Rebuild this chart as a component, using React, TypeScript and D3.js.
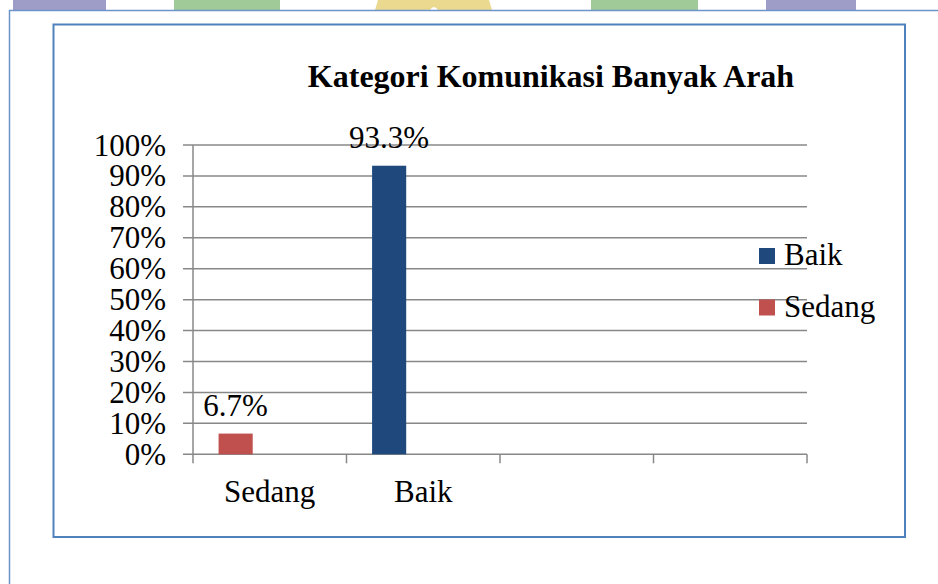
import * as d3 from "d3";
import React, { useEffect, useRef } from "react";

const categories = ["Sedang", "Baik", "", ""];
const values = [0.067, 0.933];
const barColors = ["#C0504D", "#1F497D"];
const legendNames = ["Baik", "Sedang"];
const legendColors = ["#1F497D", "#C0504D"];
const yTicks = [0, 0.1, 0.2, 0.3, 0.4, 0.5, 0.6, 0.7, 0.8, 0.9, 1];
const title = "Kategori Komunikasi Banyak Arah";

const W = 938;
const H = 584;
const FONT = "'Liberation Serif', 'Times New Roman', serif";
const FS = "31px";

const App: React.FC = () => {
  const svgRef = useRef<SVGSVGElement>(null);

  useEffect(() => {
    const svg = d3.select(svgRef.current);
    svg.selectAll("*").remove();

    svg.append("rect").attr("width", W).attr("height", H).attr("fill", "#fff");

    // bits of the page header peeking out above the frame
    const deco = svg.append("g");
    deco.append("rect").attr("x", 13).attr("y", 0).attr("width", 93).attr("height", 10).attr("fill", "#9E9DC8");
    deco.append("rect").attr("x", 174).attr("y", 0).attr("width", 106).attr("height", 10).attr("fill", "#A0CB98");
    deco.append("path").attr("d", "M378,0 L489,0 L492,10 L375,10 Z").attr("fill", "#EAD98F");
    deco.append("path").attr("d", "M430,10 Q434,4 438,10 Z").attr("fill", "#fff");
    deco.append("rect").attr("x", 591).attr("y", 0).attr("width", 107).attr("height", 10).attr("fill", "#A0CB98");
    deco.append("rect").attr("x", 766).attr("y", 0).attr("width", 90).attr("height", 10).attr("fill", "#9E9DC8");

    // outer page frame
    svg.append("rect").attr("x", 9).attr("y", 10).attr("width", W).attr("height", H).attr("fill", "#fff");
    svg
      .append("path")
      .attr("d", `M${W},10.5 L9.5,10.5 L9.5,${H}`)
      .attr("fill", "none")
      .attr("stroke", "#6C94C9")
      .attr("stroke-width", 1.5);

    // chart box
    svg
      .append("rect")
      .attr("x", 53.5)
      .attr("y", 24.5)
      .attr("width", 851.5)
      .attr("height", 512.5)
      .attr("fill", "#fff")
      .attr("stroke", "#4F81BD")
      .attr("stroke-width", 2);

    svg
      .append("text")
      .attr("x", 551)
      .attr("y", 87)
      .attr("text-anchor", "middle")
      .style("font-family", FONT)
      .style("font-size", "32px")
      .style("font-weight", "bold")
      .text(title);

    const x = d3
      .scaleBand<number>()
      .domain(categories.map((_, i) => i))
      .range([193, 807]);
    const slot = d3
      .scaleBand<number>()
      .domain([0, 1, 2])
      .range([0, x.bandwidth()])
      .paddingInner(0)
      .paddingOuter(0.75);
    const y = d3.scaleLinear().domain([0, 1]).range([454.3, 145]);

    const grid = "#888888";

    // gridlines + y ticks
    svg
      .append("g")
      .selectAll("line")
      .data(yTicks)
      .join("line")
      .attr("x1", 183)
      .attr("x2", 807)
      .attr("y1", (d) => y(d))
      .attr("y2", (d) => y(d))
      .attr("stroke", grid)
      .attr("stroke-width", 1.5);

    svg
      .append("g")
      .selectAll("text")
      .data(yTicks)
      .join("text")
      .attr("x", 166)
      .attr("y", (d) => y(d))
      .attr("dy", "0.34em")
      .attr("text-anchor", "end")
      .style("font-family", FONT)
      .style("font-size", FS)
      .text((d) => d3.format(".0%")(d));

    // axes
    svg
      .append("line")
      .attr("x1", 193)
      .attr("x2", 193)
      .attr("y1", y(1))
      .attr("y2", y(0) + 9)
      .attr("stroke", grid)
      .attr("stroke-width", 1.5);

    const edges = categories.map((_, i) => (x(i) as number) + x.bandwidth());
    svg
      .append("g")
      .selectAll("line")
      .data(edges)
      .join("line")
      .attr("x1", (d) => d)
      .attr("x2", (d) => d)
      .attr("y1", y(0))
      .attr("y2", y(0) + 9)
      .attr("stroke", grid)
      .attr("stroke-width", 1.5);

    svg
      .append("g")
      .selectAll("text")
      .data(categories)
      .join("text")
      .attr("x", (_, i) => (x(i) as number) + x.bandwidth() / 2)
      .attr("y", 502)
      .attr("text-anchor", "middle")
      .style("font-family", FONT)
      .style("font-size", FS)
      .text((d) => d);

    // bars
    svg
      .append("g")
      .selectAll("rect")
      .data(values)
      .join("rect")
      .attr("x", (_, i) => (x(i) as number) + (slot(0) as number))
      .attr("y", (d) => y(d))
      .attr("width", slot.bandwidth())
      .attr("height", (d) => y(0) - y(d))
      .attr("fill", (_, i) => barColors[i]);

    svg
      .append("g")
      .selectAll("text")
      .data(values)
      .join("text")
      .attr("x", (_, i) => (x(i) as number) + (slot(0) as number) + slot.bandwidth() / 2)
      .attr("y", (d) => y(d) - 18)
      .attr("text-anchor", "middle")
      .style("font-family", FONT)
      .style("font-size", FS)
      .text((d) => d3.format(".1%")(d));

    // legend
    const legend = svg
      .append("g")
      .selectAll("g")
      .data(legendNames)
      .join("g")
      .attr("transform", (_, i) => `translate(759,${248 + i * 51.5})`);
    legend
      .append("rect")
      .attr("width", 16)
      .attr("height", 16)
      .attr("fill", (_, i) => legendColors[i]);
    legend
      .append("text")
      .attr("x", 25)
      .attr("y", 17)
      .style("font-family", FONT)
      .style("font-size", FS)
      .text((d) => d);
  }, []);

  return (
    <svg
      ref={svgRef}
      width={W}
      height={H}
      style={{ position: "absolute", left: 0, top: 0 }}
    />
  );
};

export default App;
